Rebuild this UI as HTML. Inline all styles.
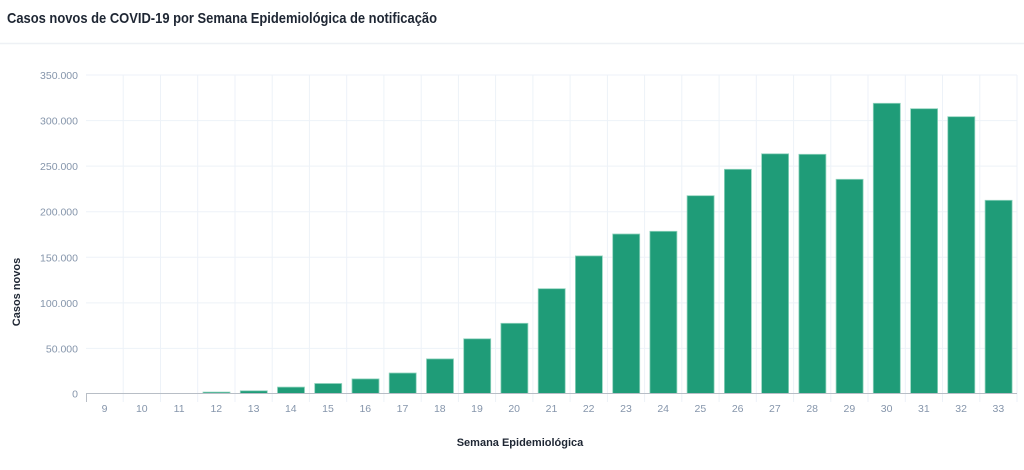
<!DOCTYPE html>
<html><head><meta charset="utf-8"><style>
body{margin:0;background:#fff;width:1024px;height:465px;overflow:hidden;font-family:"Liberation Sans",sans-serif}
</style></head><body>
<svg width="1024" height="465" xmlns="http://www.w3.org/2000/svg" font-family="Liberation Sans, sans-serif">
<text x="7" y="23" font-size="15" font-weight="bold" fill="#1e2633" textLength="430" lengthAdjust="spacingAndGlyphs">Casos novos de COVID-19 por Semana Epidemiológica de notificação</text>
<line x1="0" y1="43.5" x2="1024" y2="43.5" stroke="#eef1f5" stroke-width="1.5"/>
<g stroke="#edf2f8" stroke-width="1">
<line x1="86" y1="75" x2="1017" y2="75"/><line x1="86" y1="120.6" x2="1017" y2="120.6"/><line x1="86" y1="166.1" x2="1017" y2="166.1"/><line x1="86" y1="211.7" x2="1017" y2="211.7"/><line x1="86" y1="257.3" x2="1017" y2="257.3"/><line x1="86" y1="302.9" x2="1017" y2="302.9"/><line x1="86" y1="348.4" x2="1017" y2="348.4"/>
<line x1="123.2" y1="75" x2="123.2" y2="402"/><line x1="160.5" y1="75" x2="160.5" y2="402"/><line x1="197.7" y1="75" x2="197.7" y2="402"/><line x1="235" y1="75" x2="235" y2="402"/><line x1="272.2" y1="75" x2="272.2" y2="402"/><line x1="309.4" y1="75" x2="309.4" y2="402"/><line x1="346.7" y1="75" x2="346.7" y2="402"/><line x1="383.9" y1="75" x2="383.9" y2="402"/><line x1="421.2" y1="75" x2="421.2" y2="402"/><line x1="458.4" y1="75" x2="458.4" y2="402"/><line x1="495.6" y1="75" x2="495.6" y2="402"/><line x1="532.9" y1="75" x2="532.9" y2="402"/><line x1="570.1" y1="75" x2="570.1" y2="402"/><line x1="607.4" y1="75" x2="607.4" y2="402"/><line x1="644.6" y1="75" x2="644.6" y2="402"/><line x1="681.8" y1="75" x2="681.8" y2="402"/><line x1="719.1" y1="75" x2="719.1" y2="402"/><line x1="756.3" y1="75" x2="756.3" y2="402"/><line x1="793.6" y1="75" x2="793.6" y2="402"/><line x1="830.8" y1="75" x2="830.8" y2="402"/><line x1="868" y1="75" x2="868" y2="402"/><line x1="905.3" y1="75" x2="905.3" y2="402"/><line x1="942.5" y1="75" x2="942.5" y2="402"/><line x1="979.8" y1="75" x2="979.8" y2="402"/><line x1="1017" y1="75" x2="1017" y2="402"/>
</g>
<g fill="#1f9c78" stroke="#8fd3bd" stroke-width="0.8">
<rect x="203" y="392.1" width="27" height="1.4"/>
<rect x="240.3" y="390.8" width="27" height="2.7"/>
<rect x="277.5" y="387.1" width="27" height="6.4"/>
<rect x="314.7" y="383.5" width="27" height="10"/>
<rect x="352" y="378.9" width="27" height="14.6"/>
<rect x="389.2" y="373" width="27" height="20.5"/>
<rect x="426.5" y="358.9" width="27" height="34.6"/>
<rect x="463.7" y="338.8" width="27" height="54.7"/>
<rect x="500.9" y="323.3" width="27" height="70.2"/>
<rect x="538.2" y="288.7" width="27" height="104.8"/>
<rect x="575.4" y="255.9" width="27" height="137.6"/>
<rect x="612.7" y="234" width="27" height="159.5"/>
<rect x="649.9" y="231.3" width="27" height="162.2"/>
<rect x="687.1" y="195.7" width="27" height="197.8"/>
<rect x="724.4" y="169.3" width="27" height="224.2"/>
<rect x="761.6" y="153.8" width="27" height="239.7"/>
<rect x="798.9" y="154.3" width="27" height="239.2"/>
<rect x="836.1" y="179.3" width="27" height="214.2"/>
<rect x="873.3" y="103.3" width="27" height="290.2"/>
<rect x="910.6" y="108.7" width="27" height="284.8"/>
<rect x="947.8" y="116.7" width="27" height="276.8"/>
<rect x="985.1" y="200.3" width="27" height="193.2"/>
</g>
<line x1="86" y1="393.5" x2="1017" y2="393.5" stroke="#b8bec6" stroke-width="1"/>
<line x1="86.5" y1="393.5" x2="86.5" y2="402" stroke="#b8bec6" stroke-width="1"/>
<g font-size="10.5" fill="#8595ab" text-anchor="end">
<text x="78" y="79">350.000</text><text x="78" y="124.6">300.000</text><text x="78" y="170.1">250.000</text><text x="78" y="215.7">200.000</text><text x="78" y="261.3">150.000</text><text x="78" y="306.9">100.000</text><text x="78" y="352.4">50.000</text><text x="78" y="397.5">0</text>
</g>
<g font-size="10.5" fill="#8595ab" text-anchor="middle">
<text x="104.6" y="412">9</text><text x="141.8" y="412">10</text><text x="179.1" y="412">11</text><text x="216.3" y="412">12</text><text x="253.6" y="412">13</text><text x="290.8" y="412">14</text><text x="328" y="412">15</text><text x="365.3" y="412">16</text><text x="402.5" y="412">17</text><text x="439.8" y="412">18</text><text x="477" y="412">19</text><text x="514.2" y="412">20</text><text x="551.5" y="412">21</text><text x="588.7" y="412">22</text><text x="626" y="412">23</text><text x="663.2" y="412">24</text><text x="700.4" y="412">25</text><text x="737.7" y="412">26</text><text x="774.9" y="412">27</text><text x="812.2" y="412">28</text><text x="849.4" y="412">29</text><text x="886.6" y="412">30</text><text x="923.9" y="412">31</text><text x="961.1" y="412">32</text><text x="998.4" y="412">33</text>
</g>
<text x="520" y="446" font-size="11" font-weight="bold" fill="#1e2633" text-anchor="middle">Semana Epidemiológica</text>
<text transform="translate(20,292) rotate(-90)" font-size="11" font-weight="bold" fill="#1e2633" text-anchor="middle">Casos novos</text>
</svg>
</body></html>
